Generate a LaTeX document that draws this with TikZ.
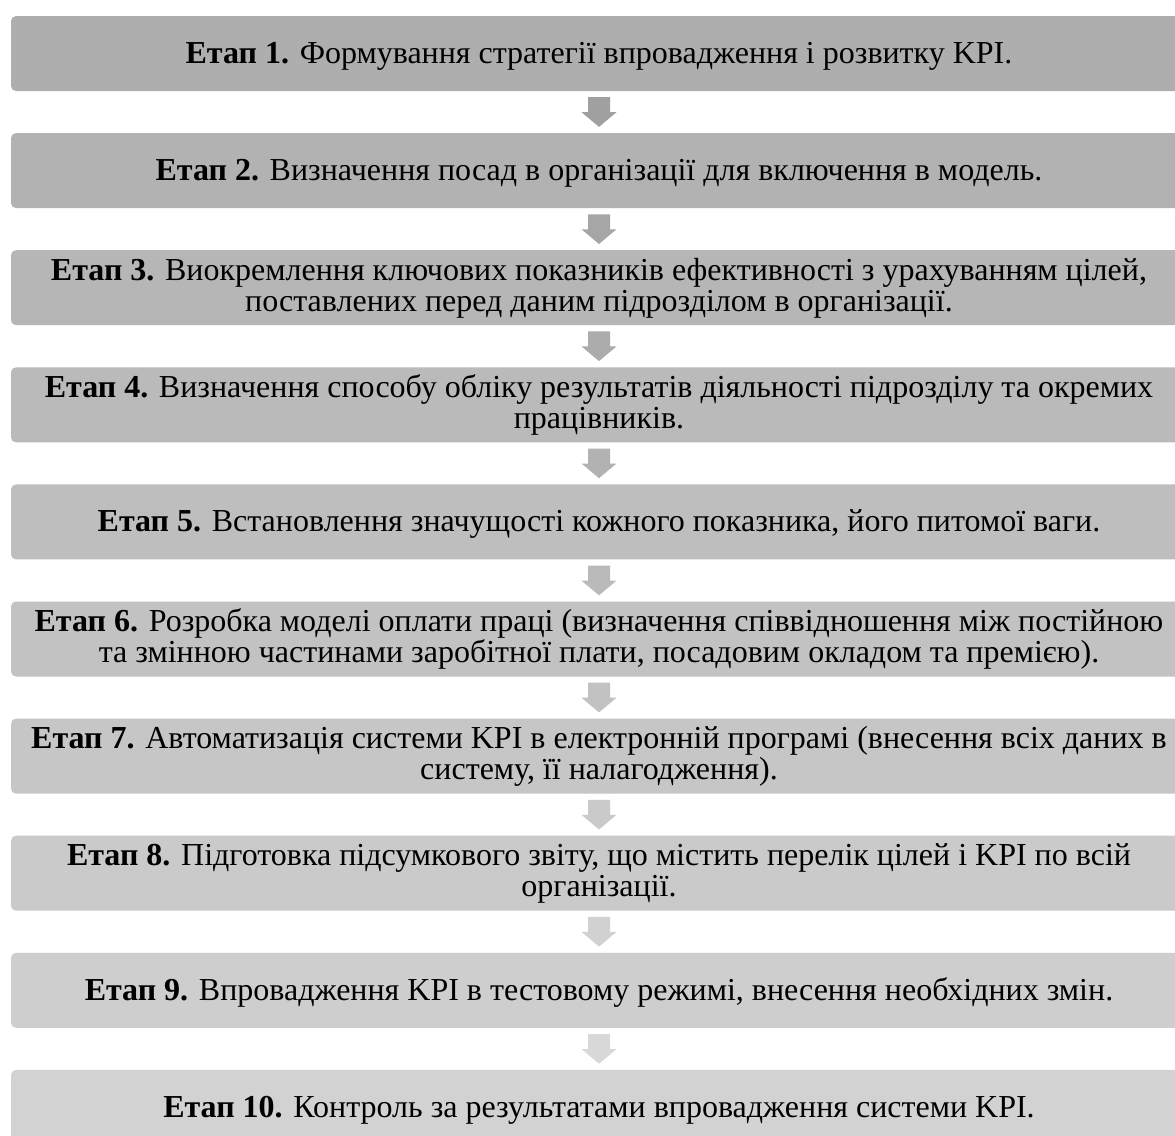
\documentclass[tikz,border=0pt]{standalone}
\usepackage{fontspec}
\setmainfont{Liberation Serif}
\usetikzlibrary{calc}
\definecolor{g1}{RGB}{174,174,174}
\definecolor{g2}{RGB}{178,178,178}
\definecolor{g3}{RGB}{182,182,182}
\definecolor{g4}{RGB}{186,186,186}
\definecolor{g5}{RGB}{190,190,190}
\definecolor{g6}{RGB}{194,194,194}
\definecolor{g7}{RGB}{198,198,198}
\definecolor{g8}{RGB}{202,202,202}
\definecolor{g9}{RGB}{206,206,206}
\definecolor{g10}{RGB}{210,210,210}
\definecolor{a1}{RGB}{160,160,160}
\definecolor{a2}{RGB}{166,166,166}
\definecolor{a3}{RGB}{172,172,172}
\definecolor{a4}{RGB}{178,178,178}
\definecolor{a5}{RGB}{186,186,186}
\definecolor{a6}{RGB}{194,194,194}
\definecolor{a7}{RGB}{202,202,202}
\definecolor{a8}{RGB}{209,209,209}
\definecolor{a9}{RGB}{216,216,216}
\newcommand{\hs}{\rule[-8pt]{0pt}{35.6pt}}
\newcommand{\hse}{\rule[-12pt]{0pt}{12pt}}
\newcommand{\stagearrow}[3]{%
  \fill[#3] ([xshift=-11pt,yshift=-6pt]#1.south) -- ([xshift=11pt,yshift=-6pt]#1.south)
    -- ([xshift=11pt,yshift=-21pt]#1.south) -- ([xshift=17.5pt,yshift=-21pt]#1.south)
    -- ([yshift=6pt]#2.north) -- ([xshift=-17.5pt,yshift=-21pt]#1.south)
    -- ([xshift=-11pt,yshift=-21pt]#1.south) -- cycle;}
\tikzset{
  stagebox/.style={rounded corners=5pt, minimum width=1176pt, minimum height=75pt,
    inner sep=0pt, align=center, text=black,
    font=\fontsize{32}{31}\selectfont}
}
\begin{document}
\begin{tikzpicture}[x=1pt,y=-1pt]
\useasboundingbox[fill=white] (0,0) rectangle (1175,1135);
\node[stagebox, fill=g1] (b1) at (599,53.5) {\hs\textbf{Етап 1.} Формування стратегії впровадження і розвитку KPI.\hs};
\node[stagebox, fill=g2] (b2) at (599,170.6) {\hs\textbf{Етап 2.} Визначення посад в організації для включення в модель.\hs};
\node[stagebox, fill=g3] (b3) at (599,287.7) {\hs\textbf{Етап 3.} Виокремлення ключових показників ефективності з урахуванням цілей,\\ поставлених перед даним підрозділом в організації.\hse};
\node[stagebox, fill=g4] (b4) at (599,404.8) {\hs\textbf{Етап 4.} Визначення способу обліку результатів діяльності підрозділу та окремих\\ працівників.\hse};
\node[stagebox, fill=g5] (b5) at (599,521.9) {\hs\textbf{Етап 5.} Встановлення значущості кожного показника, його питомої ваги.\hs};
\node[stagebox, fill=g6] (b6) at (599,639) {\hs\textbf{Етап 6.} Розробка моделі оплати праці (визначення співвідношення між постійною\\ та змінною частинами заробітної плати, посадовим окладом та премією).\hse};
\node[stagebox, fill=g7] (b7) at (599,756.1) {\hs\textbf{Етап 7.} Автоматизація системи KPI в електронній програмі (внесення всіх даних в\\ систему, її налагодження).\hse};
\node[stagebox, fill=g8] (b8) at (599,873.2) {\hs\textbf{Етап 8.} Підготовка підсумкового звіту, що містить перелік цілей і KPI по всій\\ організації.\hse};
\node[stagebox, fill=g9] (b9) at (599,990.3) {\hs\textbf{Етап 9.} Впровадження KPI в тестовому режимі, внесення необхідних змін.\hs};
\node[stagebox, fill=g10] (b10) at (599,1107.4) {\hs\textbf{Етап 10.} Контроль за результатами впровадження системи KPI.\hs};
\stagearrow{b1}{b2}{a1}
\stagearrow{b2}{b3}{a2}
\stagearrow{b3}{b4}{a3}
\stagearrow{b4}{b5}{a4}
\stagearrow{b5}{b6}{a5}
\stagearrow{b6}{b7}{a6}
\stagearrow{b7}{b8}{a7}
\stagearrow{b8}{b9}{a8}
\stagearrow{b9}{b10}{a9}
\end{tikzpicture}
\end{document}
